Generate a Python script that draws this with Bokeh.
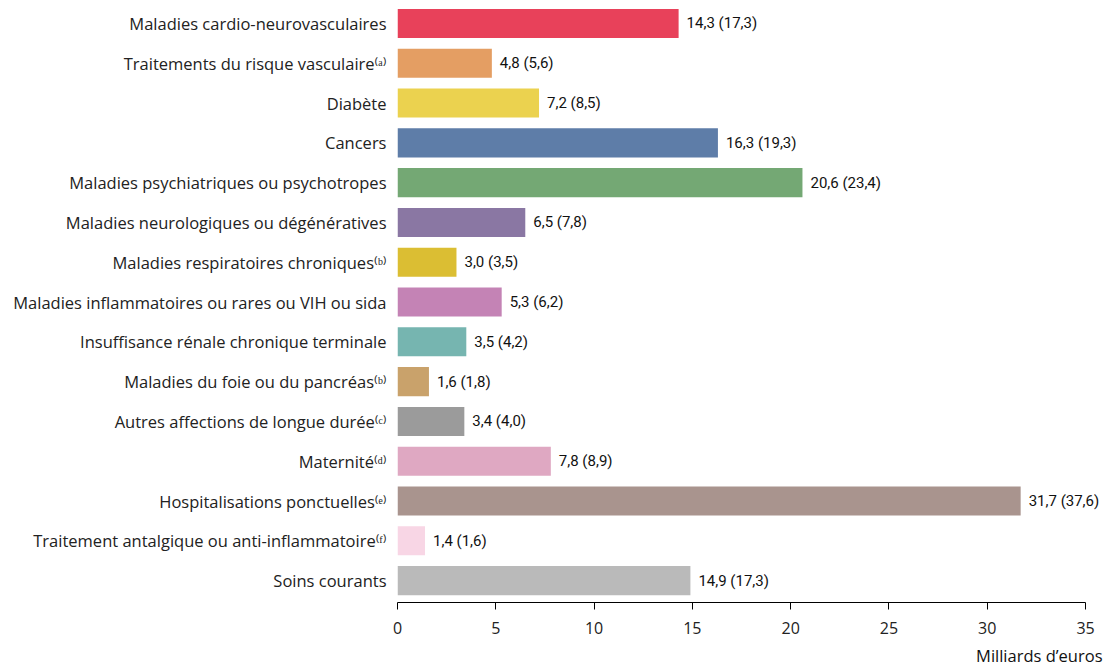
from bokeh.plotting import figure
from bokeh.models import ColumnDataSource, FixedTicker, Range1d, Title
from bokeh.embed import file_html
from bokeh.resources import INLINE

categories = [
    "Maladies cardio-neurovasculaires",
    "Traitements du risque vasculaire\u207d\u1d43\u207e",
    "Diabète",
    "Cancers",
    "Maladies psychiatriques ou psychotropes",
    "Maladies neurologiques ou dégénératives",
    "Maladies respiratoires chroniques\u207d\u1d47\u207e",
    "Maladies inflammatoires ou rares ou VIH ou sida",
    "Insuffisance rénale chronique terminale",
    "Maladies du foie ou du pancréas\u207d\u1d47\u207e",
    "Autres affections de longue durée\u207d\u1d9c\u207e",
    "Maternité\u207d\u1d48\u207e",
    "Hospitalisations ponctuelles\u207d\u1d49\u207e",
    "Traitement antalgique ou anti-inflammatoire\u207d\u1da0\u207e",
    "Soins courants",
]
values = [14.3, 4.8, 7.2, 16.3, 20.6, 6.5, 3.0, 5.3, 3.5, 1.6, 3.4, 7.8, 31.7, 1.4, 14.9]
values_total = [17.3, 5.6, 8.5, 19.3, 23.4, 7.8, 3.5, 6.2, 4.2, 1.8, 4.0, 8.9, 37.6, 1.6, 17.3]
colors = ["#E8415A", "#E49E63", "#EBD24F", "#5E7DA8", "#74A874", "#8A77A3", "#DBBE33",
          "#C483B5", "#76B5B0", "#C9A26B", "#9B9B9B", "#DFA8C2", "#A9948E", "#F8D6E5", "#BABABA"]
x_ticks = [0, 5, 10, 15, 20, 25, 30, 35]

n = len(categories)
ypos = [n - 1 - i for i in range(n)]
labels = [f"{v:.1f} ({t:.1f})".replace(".", ",") for v, t in zip(values, values_total)]

src = ColumnDataSource(dict(y=ypos, v=values, c=colors, lab=labels))

p = figure(width=1110, height=671, output_backend="svg", toolbar_location=None,
           x_range=Range1d(0, 36.27), y_range=Range1d(-0.55, n - 1 + 0.376),
           min_border_left=397, min_border_right=0, min_border_top=8, min_border_bottom=67)
p.outline_line_color = None
p.grid.visible = False

p.hbar(y="y", right="v", left=0, height=0.73, fill_color="c", line_color=None, source=src)
p.text(x="v", y="y", text="lab", x_offset=8, text_baseline="middle", text_align="left",
       text_font_size="15px", text_color="#111111", source=src,
       text_font={"value": "Roboto"})

p.yaxis.ticker = FixedTicker(ticks=ypos)
p.yaxis.major_label_overrides = {y: c for y, c in zip(ypos, categories)}
p.yaxis.axis_line_color = None
p.yaxis.major_tick_line_color = None
p.yaxis.minor_tick_line_color = None
p.yaxis.major_label_standoff = 5
p.yaxis.major_label_text_font = "Open Sans"
p.yaxis.major_label_text_font_size = "16.5px"
p.yaxis.major_label_text_color = "#222222"

p.xaxis.bounds = (0, 35)
p.xaxis.ticker = FixedTicker(ticks=x_ticks)
p.xaxis.minor_tick_line_color = None
p.xaxis.major_tick_in = 0
p.xaxis.major_tick_out = 7
p.xaxis.axis_line_color = "#000000"
p.xaxis.major_tick_line_color = "#000000"
p.xaxis.major_label_text_font = "Open Sans"
p.xaxis.major_label_text_font_size = "16px"
p.xaxis.major_label_text_color = "#222222"
p.xaxis.major_label_standoff = 12

p.add_layout(Title(text="Milliards d\u2019euros", align="right", text_font="Open Sans",
                   text_font_size="16.5px", text_font_style="normal", text_color="#111111",
                   offset=8), "below")

open("out.html", "w").write(file_html(p, INLINE))
